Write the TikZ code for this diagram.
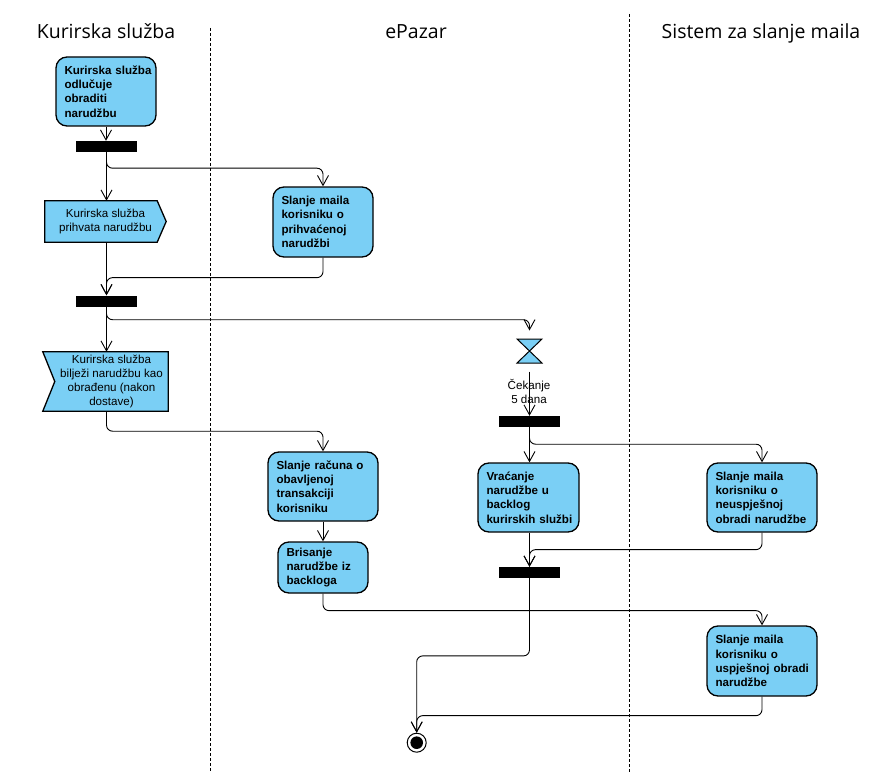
\documentclass[tikz,border=0pt]{standalone}
\usepackage{fontspec}
\setmainfont{Liberation Sans}
\newfontfamily\titlefont{Open Sans}
\usetikzlibrary{arrows.meta,calc,backgrounds}
\definecolor{actblue}{RGB}{122,207,245}

\begin{document}
\begin{tikzpicture}[x=1pt,y=-1pt,
  act/.style={draw, line width=1.3pt, fill=actblue, rounded corners=11pt, inner xsep=8.5pt, inner ysep=0pt, align=left, font=\fontsize{11.6}{14.3}\selectfont\bfseries, minimum height=69pt},
  bar/.style={fill=black, minimum width=61pt, minimum height=11pt, inner sep=0pt},
  flow/.style={line width=0.9pt, rounded corners=6pt, -{Straight Barb[length=10pt,width=11pt,line width=0.9pt]}},
  lane/.style={line width=0.9pt, dash pattern=on 3pt off 2pt},
  title/.style={font=\titlefont\fontsize{19.5}{22}\selectfont, anchor=base},
  plain/.style={font=\fontsize{11.6}{14.3}\selectfont, align=center},
  sig/.style={draw, line width=1.3pt, fill=actblue}
]
\useasboundingbox (0,0) rectangle (889,773);

% lanes
\draw[lane] (210.5,28) -- (210.5,773);
\draw[lane] (629,14) -- (629,773);

% titles
\node[title] (t1) at (106,39) {Kurirska služba};
\node[title] (t2) at (416,39) {ePazar};
\node[title] (t3) at (761,39) {Sistem za slanje maila};

% nodes
\node[act, text width=83pt] (a1) at (106,91.5) {Kurirska~služba\\odlučuje\\obraditi\\narudžbu};
\node[bar] (f1) at (106.5,146.5) {};
\node[plain, minimum width=121pt, minimum height=41pt, inner sep=0pt] (prih) at (105.5,221.5) {Kurirska služba\\prihvata narudžbu};
\node[act, text width=83pt, minimum height=70pt] (m1) at (323,222) {Slanje~maila\\korisniku~o\\prihvaćenoj\\narudžbi};
\node[bar] (f2) at (106.5,301) {};
\node[plain, minimum width=113pt, minimum height=59pt, inner sep=0pt] (bilj) at (111.5,381.5) {Kurirska služba\\bilježi narudžbu kao\\obrađenu (nakon\\dostave)};
\node[act, text width=93pt] (rac) at (323,486.5) {Slanje~računa~o\\obavljenoj\\transakciji\\korisniku};
\node[act, text width=73pt, minimum height=51pt] (bris) at (323,567.5) {Brisanje\\narudžbe~iz\\backloga};
\node[minimum width=25pt, minimum height=24pt, inner sep=0pt, outer ysep=8.5pt] (hour) at (529.5,351) {};
\node[bar] (f3) at (529.5,421.5) {};
\node[act, text width=84pt] (vrac) at (528.5,497.5) {Vraćanje\\narudžbe~u\\backlog\\kurirskih~službi};
\node[act, text width=93pt] (neu) at (762,497.5) {Slanje~maila\\korisniku~o\\neuspješnoj\\obradi~narudžbe};
\node[bar] (f4) at (529.5,572.5) {};
\node[act, text width=93pt, minimum height=70pt] (usp) at (762,661) {Slanje~maila\\korisniku~o\\uspješnoj~obradi\\narudžbe};
\node[circle, draw, line width=1pt, minimum size=19pt, inner sep=0pt,
  path picture={\fill (path picture bounding box.center) circle (6.3pt);}] (fin) at (416.7,742.7) {};

% signal shapes
\begin{scope}[on background layer]
\fill[white] (0,0) rectangle (889,773);
\draw[sig] (prih.north west) -- ($(prih.north east)+(-9,0)$) -- (prih.east) -- ($(prih.south east)+(-9,0)$) -- (prih.south west) -- cycle;
\draw[sig] ($(bilj.north west)+(-12,0)$) -- (bilj.north east) -- (bilj.south east) -- ($(bilj.south west)+(-12,0)$) -- (bilj.west) -- cycle;
\end{scope}

% hourglass
\filldraw[fill=actblue, draw=black, line width=1pt, line join=miter]
  ($(hour.center)+(-12.5,-12)$) -- ($(hour.center)+(12.5,-12)$) -- ($(hour.center)+(-12.5,12)$) -- ($(hour.center)+(12.5,12)$) -- cycle;

% flows
\draw[flow] (a1.south) -- (a1.south |- f1.north);
\draw[flow] (f1.south) -- (f1.south |- prih.north);
\draw[flow] (f1.south) -- ++(0,16) -| (m1.north);
\draw[flow] (prih.south -| f2.north) -- (f2.north);
\draw[flow] (m1.south) -- ++(0,20) -| (f2.north);
\draw[flow] (f2.south) -- (f2.south |- bilj.north);
\draw[flow] (f2.south) -- ++(0,13) -| (hour.north);
\draw[flow] (bilj.south -| f2.south) -- ++(0,20) -| (rac.north);
\draw[flow] (rac.south) -- (bris.north);
\draw[flow] (bris.south) -- ++(0,17) -| (usp.north);
\draw[flow] (hour.south) -- (f3.north);
\draw[flow] (f3.south) -- (f3.south |- vrac.north);
\draw[flow] (f3.south) -- ++(0,17) -| (neu.north);
\draw[flow] (vrac.south -| f4.north) -- (f4.north);
\draw[flow] (neu.south) -- ++(0,17) -| (f4.north);
\draw[flow] (f4.south) -- ++(0,77.7) -| (fin.north);
\draw[flow] (usp.south) -- ++(0,19) -| (fin.north);

\node[plain] (wait) at (529,391.5) {Čekanje\\5 dana};
\end{tikzpicture}
\end{document}
